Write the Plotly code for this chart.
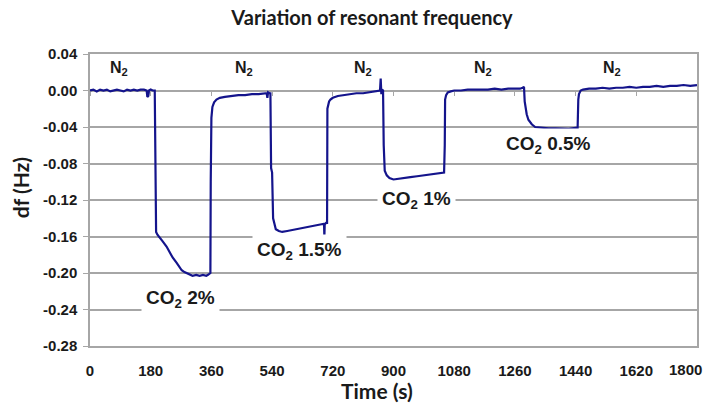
import plotly.graph_objects as go

# ---- data ----
time_s = [
    0, 10, 20, 30, 40, 50, 60, 70, 80, 90, 100, 110, 120, 130, 140, 150, 160, 168, 170, 173, 175, 180, 186, 192,
    194, 196, 200, 207, 215, 227, 237, 245, 257, 265, 272, 280, 287, 295, 304, 315, 325, 335, 345, 350, 355, 357,
    358, 360, 363, 368, 375, 385, 400, 420, 440, 460, 480, 500, 515, 524, 526, 528, 532, 535,
    537, 540, 543, 545, 551, 560, 570, 585, 600, 615, 630, 645, 660, 675, 690, 694, 695, 696, 700, 703,
    704, 706, 709, 713, 720, 735, 750, 770, 790, 810, 830, 850, 860, 862, 864, 866, 869,
    871, 874, 880, 888, 900, 915, 930, 950, 970, 990, 1010, 1030, 1045, 1050,
    1052, 1053, 1056, 1061, 1070, 1080, 1100, 1120, 1140, 1160, 1180, 1200, 1220, 1240, 1260, 1275, 1283, 1287,
    1289, 1291, 1295, 1300, 1310, 1320, 1340, 1360, 1380, 1400, 1420, 1440, 1446,
    1448, 1450, 1455, 1462, 1480, 1500, 1520, 1540, 1560, 1580, 1600, 1620, 1640, 1660, 1680, 1700, 1720,
    1740, 1760, 1780, 1800,
]
df_hz = [
    0.000, 0.001, -0.001, 0.001, 0.000, 0.001, -0.001, 0.000, 0.001, 0.000, -0.001, 0.001, 0.000, 0.001, 0.000,
    0.001, 0.001, 0.000, -0.007, -0.006, 0.000, 0.001, 0.000, 0.000,
    -0.060, -0.155, -0.158, -0.161, -0.165, -0.171, -0.178, -0.183, -0.189, -0.194, -0.197, -0.199, -0.200,
    -0.202, -0.203, -0.202, -0.203, -0.202, -0.203, -0.202, -0.201, -0.200,
    -0.100, -0.030, -0.018, -0.013, -0.010, -0.008, -0.007, -0.006, -0.005, -0.005, -0.004, -0.004, -0.003,
    -0.003, -0.008, -0.002, -0.003, -0.003,
    -0.085, -0.090, -0.140, -0.143, -0.152, -0.154, -0.155, -0.154, -0.153, -0.152, -0.151, -0.150, -0.149,
    -0.148, -0.147, -0.146, -0.160, -0.147, -0.145, -0.145,
    -0.020, -0.016, -0.012, -0.010, -0.008, -0.006, -0.005, -0.004, -0.003, -0.003, -0.002, -0.001, 0.000,
    0.013, -0.004, 0.001, 0.000,
    -0.060, -0.088, -0.093, -0.096, -0.0975, -0.097, -0.096, -0.095, -0.094, -0.093, -0.092, -0.091, -0.090,
    -0.090,
    -0.060, -0.010, -0.005, -0.002, -0.001, 0.000, 0.000, 0.001, 0.001, 0.001, 0.001, 0.002, 0.001, 0.002,
    0.002, 0.002, 0.003, 0.004,
    -0.012, -0.018, -0.026, -0.032, -0.037, -0.040, -0.041, -0.0415, -0.0415, -0.042, -0.042, -0.041, -0.041,
    -0.010, -0.004, 0.000, 0.001, 0.002, 0.002, 0.003, 0.002, 0.003, 0.003, 0.004, 0.003, 0.004, 0.004, 0.005,
    0.004, 0.005, 0.005, 0.006, 0.005, 0.006,
]

x_ticks = [0, 180, 360, 540, 720, 900, 1080, 1260, 1440, 1620, 1800]
x_tick_labels = ["0", "180", "360", "540", "720", "900", "1080", "1260", "1440", "1620", "1800"]
y_ticks = [0.04, 0.00, -0.04, -0.08, -0.12, -0.16, -0.20, -0.24, -0.28]
y_tick_labels = ["0.04", "0.00", "-0.04", "-0.08", "-0.12", "-0.16", "-0.20", "-0.24", "-0.28"]

n2_times = [86, 458, 810, 1165, 1549]
n2_level = 0.024
co2_labels = ["CO<sub>2</sub> 2%", "CO<sub>2</sub> 1.5%", "CO<sub>2</sub> 1%", "CO<sub>2</sub> 0.5%"]
co2_times = [269, 621, 969, 1360]
co2_levels = [-0.229, -0.1764, -0.120, -0.0592]

GRID = "#a6a6a6"
TXT = "#1a1a1a"
ARIAL = "Liberation Sans, Arial, sans-serif"
TICKFONT = dict(family=ARIAL, size=15, color=TXT)

fig = go.Figure()
fig.add_trace(go.Scatter(x=time_s, y=df_hz, mode="lines",
                         line=dict(color="#14148c", width=2.2), showlegend=False))
# helper trace for the tick marks on the zero line
fig.add_trace(go.Scatter(x=[0], y=[0], xaxis="x2", mode="markers",
                         marker=dict(opacity=0), showlegend=False, hoverinfo="skip"))

annotations = []
for t in n2_times:
    annotations.append(dict(x=t, y=n2_level, xref="x", yref="y", text="<b>N<sub>2</sub></b>",
                            showarrow=False, font=dict(family=ARIAL, size=16, color=TXT)))
for lab, t, v in zip(co2_labels, co2_times, co2_levels):
    annotations.append(dict(x=t, y=v, xref="x", yref="y", text="<b>" + lab + "</b>",
                            showarrow=False, bgcolor="white", borderpad=4,
                            font=dict(family=ARIAL, size=19, color=TXT)))

# last x tick label, pulled inside the figure like the reference
annotations.append(dict(x=x_ticks[-1], y=-24 / 292, xref="x", yref="paper",
                        text="<b>%s</b>" % x_tick_labels[-1], showarrow=False,
                        xanchor="right", yanchor="middle", xshift=7,
                        font=TICKFONT))

annotations.append(dict(x=0.473, y=-0.152, xref="paper", yref="paper", text="<b>Time (s)</b>",
                        showarrow=False, xanchor="center", yanchor="middle",
                        font=dict(family="Lato, sans-serif", size=21, color=TXT)))
annotations.append(dict(x=-0.115, y=0.541, xref="paper", yref="paper", text="<b>df (Hz)</b>",
                        showarrow=False, textangle=-90, xanchor="center", yanchor="middle",
                        font=dict(family="Lato, sans-serif", size=21, color=TXT)))

fig.update_layout(
    width=708, height=405,
    margin=dict(l=90, r=9, t=54, b=59),
    paper_bgcolor="white", plot_bgcolor="white",
    title=dict(text="<b>Variation of resonant frequency</b>", x=372 / 708, xanchor="center",
               y=1 - 18 / 405, yanchor="middle", xref="container", yref="container",
               font=dict(family="Lato, sans-serif", size=20, color=TXT)),
    xaxis=dict(range=[0, 1800], tickvals=x_ticks[:-1],
               ticktext=["<b>%s</b>" % s for s in x_tick_labels[:-1]],
               showgrid=False, zeroline=False, showline=True, linecolor=GRID, linewidth=1.5,
               mirror=True, ticks="", ticklabelstandoff=10, tickfont=TICKFONT),
    xaxis2=dict(range=[0, 1800], tickvals=x_ticks, overlaying="x", anchor="free", position=0.875,
                side="bottom", showticklabels=False, showgrid=False, zeroline=False, showline=False,
                ticks="outside", ticklen=4, tickcolor=GRID, tickwidth=1),
    yaxis=dict(range=[-0.28, 0.04], tickvals=y_ticks, ticktext=["<b>%s</b>" % s for s in y_tick_labels],
               showgrid=True, gridcolor=GRID, gridwidth=1.5, zeroline=False,
               showline=True, linecolor=GRID, linewidth=1.5, mirror=True,
               ticks="outside", ticklen=5, tickcolor=GRID, tickfont=TICKFONT,
               ticklabelstandoff=3),
    annotations=annotations,
)

fig.write_html("out.html", config={"displayModeBar": False},
               post_script="document.body.style.margin='0';")
